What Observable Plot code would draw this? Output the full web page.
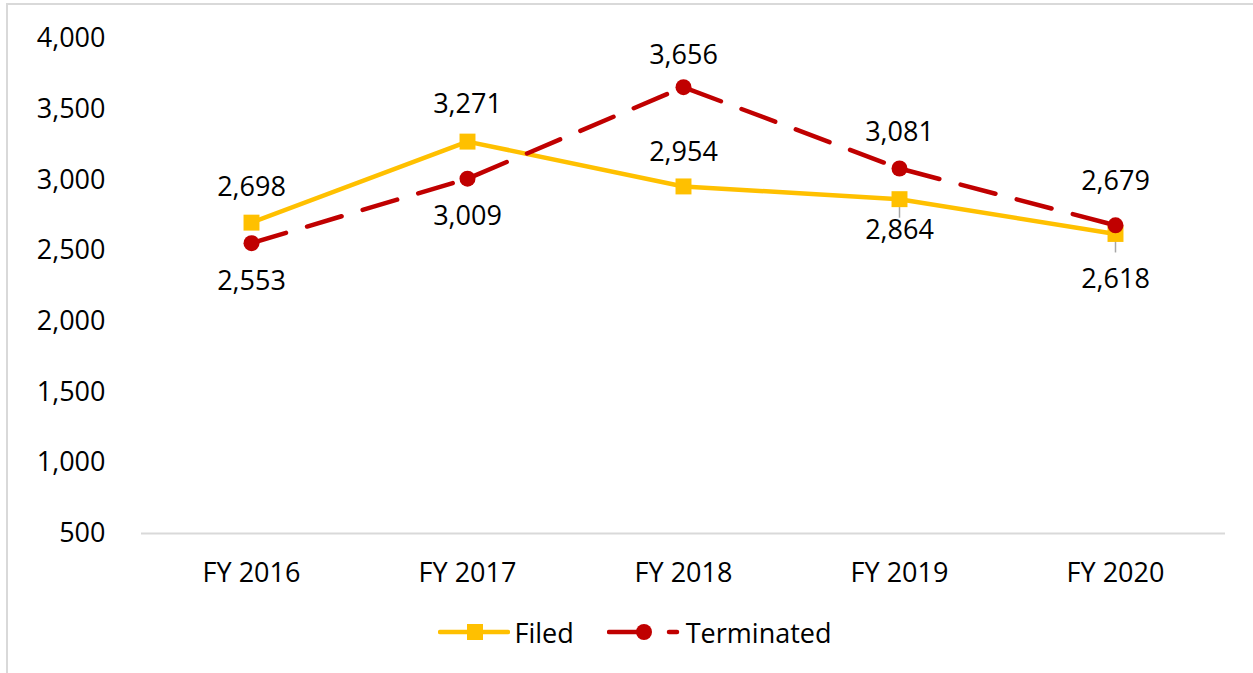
<!DOCTYPE html>
<html>
<head>
<meta charset="utf-8">
<script src="https://cdn.jsdelivr.net/npm/d3@7"></script>
<script src="https://cdn.jsdelivr.net/npm/@observablehq/plot@0.6"></script>
<style>
  html, body { margin: 0; padding: 0; background: #fff; overflow: hidden; }
  body { width: 1253px; height: 673px; position: relative; font-family: "Open Sans", sans-serif; }
  #frame { position: absolute; left: 6px; top: 3px; width: 1400px; height: 800px; border: 2px solid #d9d9d9; box-sizing: border-box; }
  #chart { position: absolute; left: 0; top: 0; }
  #legend { position: absolute; left: 0; top: 612px; width: 1253px; height: 40px; display: flex; justify-content: center; align-items: center; font-size: 27px; color: #000; padding-left: 16px; box-sizing: border-box; }
  .item { display: flex; align-items: center; }
  .item svg { display: block; }
</style>
</head>
<body>
<div id="frame"></div>
<div id="chart"></div>
<div id="legend"></div>
<script>
const categories = ["FY 2016", "FY 2017", "FY 2018", "FY 2019", "FY 2020"];
const filed = [2698, 3271, 2954, 2864, 2618];
const terminated = [2553, 3009, 3656, 3081, 2679];
const yTicks = [500, 1000, 1500, 2000, 2500, 3000, 3500, 4000];
const seriesNames = ["Filed", "Terminated"];

const YELLOW = "#FFC000", RED = "#C00000";
const fmt = d3.format(",");

const filedData = categories.map((c, i) => ({cat: c, v: filed[i], s: seriesNames[0], i}));
const termData = categories.map((c, i) => ({cat: c, v: terminated[i], s: seriesNames[1], i}));

// label offsets (pixels) per point
const filedDy = [-35, -37, -34, 31, 45];
const termDy = [38, 38, -32, -36, -44];

const labelMarks = [];
filedData.forEach((d, k) => labelMarks.push(Plot.text([d], {x: "cat", y: "v", text: d => fmt(d.v), dy: filedDy[k], fontSize: 27, fill: "#000"})));
termData.forEach((d, k) => labelMarks.push(Plot.text([d], {x: "cat", y: "v", text: d => fmt(d.v), dy: termDy[k], fontSize: 27, fill: "#000"})));

// leader lines for the two lower labels that sit close to the markers
const leaders = filedData.filter(d => d.i >= 3);

const chart = Plot.plot({
  width: 1253,
  height: 600,
  marginLeft: 141,
  marginRight: 28,
  marginTop: 38,
  marginBottom: 67,
  style: {fontFamily: "Open Sans, sans-serif", fontSize: "27px", color: "#000", background: "transparent"},
  x: {type: "point", domain: categories, padding: 0.5, label: null, tickSize: 0, tickPadding: 29},
  y: {domain: [500, 4000], ticks: yTicks, tickFormat: fmt, label: null, tickSize: 0, tickPadding: 36},
  marks: [
    Plot.ruleY([500], {stroke: "#d9d9d9", strokeWidth: 2}),
    Plot.ruleX(leaders, {x: "cat", y1: d => d.v, y2: d => d.v - 85, dy: 7, stroke: "#a6a6a6", strokeWidth: 1.5}),
    Plot.line(filedData, {x: "cat", y: "v", stroke: YELLOW, strokeWidth: 4.5, strokeLinecap: "round", strokeLinejoin: "round"}),
    Plot.dot(filedData, {x: "cat", y: "v", symbol: "square", r: 9, fill: YELLOW, stroke: "none"}),
    Plot.line(termData, {x: "cat", y: "v", stroke: RED, strokeWidth: 4.5, strokeDasharray: "36,22", strokeLinecap: "round", strokeLinejoin: "round"}),
    Plot.dot(termData, {x: "cat", y: "v", symbol: "circle", r: 8, fill: RED, stroke: "none"}),
    ...labelMarks
  ]
});
document.getElementById("chart").appendChild(chart);

// legend
const legend = document.getElementById("legend");
function item(name, color, kind, marginLeft) {
  const div = document.createElement("div");
  div.className = "item";
  div.style.marginLeft = marginLeft + "px";
  const svg = d3.create("svg").attr("width", kind === "square" ? 72 : 74).attr("height", 30);
  if (kind === "square") {
    svg.append("line").attr("x1", 2).attr("x2", 70).attr("y1", 15).attr("y2", 15).attr("stroke", color).attr("stroke-width", 4.5).attr("stroke-linecap", "round");
    svg.append("rect").attr("x", 29).attr("y", 7).attr("width", 16).attr("height", 16).attr("fill", color);
  } else {
    svg.append("line").attr("x1", 2).attr("x2", 38).attr("y1", 15).attr("y2", 15).attr("stroke", color).attr("stroke-width", 4.5).attr("stroke-linecap", "round");
    svg.append("circle").attr("cx", 37).attr("cy", 15).attr("r", 8).attr("fill", color);
    svg.append("line").attr("x1", 62).attr("x2", 70).attr("y1", 15).attr("y2", 15).attr("stroke", color).attr("stroke-width", 4.5).attr("stroke-linecap", "round");
  }
  div.appendChild(svg.node());
  const span = document.createElement("span");
  span.textContent = name;
  span.style.marginLeft = "5px";
  div.appendChild(span);
  legend.appendChild(div);
}
item(seriesNames[0], YELLOW, "square", 0);
item(seriesNames[1], RED, "circle", 33);
</script>
</body>
</html>
